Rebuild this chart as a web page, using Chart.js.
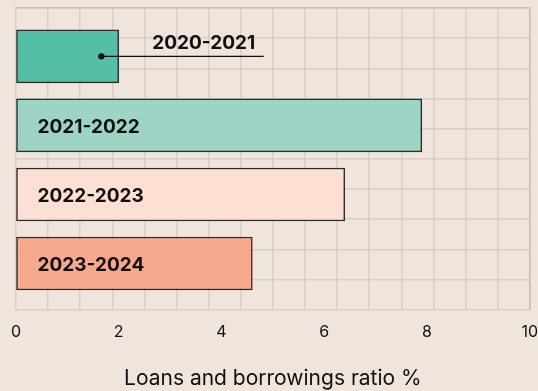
<!DOCTYPE html>
<html>
<head>
<meta charset="utf-8">
<script src="https://cdn.jsdelivr.net/npm/chart.js@4.4.1/dist/chart.umd.min.js"></script>
<style>
  html, body { margin: 0; padding: 0; background: #efe5dc; }
</style>
</head>
<body>
<canvas id="chart" width="538" height="391"></canvas>
<script>
var years = ["2020-2021", "2021-2022", "2022-2023", "2023-2024"];
var ratios = [2.0, 7.9, 6.4, 4.6];
var barColors = ["#55bfa6", "#9dd4c6", "#fddfd3", "#f7a98d"];
var axisTitle = "Loans and borrowings ratio %";

var gridColor = "#d8cec5";
var edgeColor = "#c4c1bd";
var textFont = "Inter, 'Noto Sans', sans-serif";

// year labels: inside the bar, or outside with a pointer for the short one
var barLabels = {
  id: "barLabels",
  afterDatasetsDraw: function(chart) {
    var ctx = chart.ctx;
    var meta = chart.getDatasetMeta(0);
    ctx.save();
    ctx.font = "bold 19px " + textFont;
    ctx.fillStyle = "#111";
    ctx.textBaseline = "middle";
    meta.data.forEach(function(bar, i) {
      if (i === 0) {
        var dotX = bar.base + (bar.x - bar.base) * 0.83;
        var endX = bar.x + 145;
        ctx.strokeStyle = "#111";
        ctx.lineWidth = 1.3;
        ctx.beginPath();
        ctx.moveTo(dotX, bar.y);
        ctx.lineTo(endX, bar.y);
        ctx.stroke();
        ctx.beginPath();
        ctx.arc(dotX, bar.y, 3.2, 0, Math.PI * 2);
        ctx.fill();
        ctx.textAlign = "center";
        ctx.fillText(years[i], bar.x + 85, bar.y - 13);
      } else {
        ctx.textAlign = "left";
        ctx.fillText(years[i], bar.base + 21, bar.y + 2);
      }
    });
    ctx.restore();
  }
};

var ctx = document.getElementById("chart").getContext("2d");
var chart = new Chart(ctx, {
  type: "bar",
  data: {
    labels: years,
    datasets: [{
      data: ratios.map(function(v, i) { return { x: v, y: i }; }),
      backgroundColor: barColors,
      borderColor: "#2e2b29",
      borderWidth: 1.5,
      borderSkipped: false,
      barThickness: 53
    }]
  },
  options: {
    responsive: false,
    animation: false,
    indexAxis: "y",
    layout: { padding: { top: 8, left: 16, right: 0, bottom: 0 } },
    plugins: {
      legend: { display: false },
      tooltip: { enabled: false }
    },
    scales: {
      x: {
        type: "linear",
        position: "bottom",
        min: 0,
        max: 10,
        // invisible tick marks only push the labels down
        grid: { display: true, drawOnChartArea: false, drawTicks: true, tickLength: 13, color: "rgba(0,0,0,0)" },
        border: { display: false },
        ticks: {
          stepSize: 2,
          color: "#111",
          padding: 0,
          font: { family: textFont, size: 16 }
        },
        title: {
          display: true,
          text: axisTitle,
          color: "#111",
          padding: { top: 24, bottom: 0 },
          font: { family: textFont, size: 21 }
        }
      },
      y: {
        type: "linear",
        display: false,
        reverse: true,
        offset: false,
        min: -0.7,
        max: 3.667
      },
      // square background grid, independent of the value ticks
      gx: {
        type: "linear",
        axis: "x",
        position: "top",
        min: 0,
        max: 16,
        ticks: { display: false, stepSize: 1 },
        grid: { color: gridColor, lineWidth: 1.5, drawTicks: false },
        border: { color: edgeColor, width: 1.5 }
      },
      gy: {
        type: "linear",
        axis: "y",
        position: "right",
        min: 0,
        max: 9,
        ticks: { display: false, stepSize: 1 },
        grid: { color: gridColor, lineWidth: 1.5, drawTicks: false },
        border: { color: edgeColor, width: 1.5 }
      }
    }
  },
  plugins: [barLabels]
});
</script>
</body>
</html>
